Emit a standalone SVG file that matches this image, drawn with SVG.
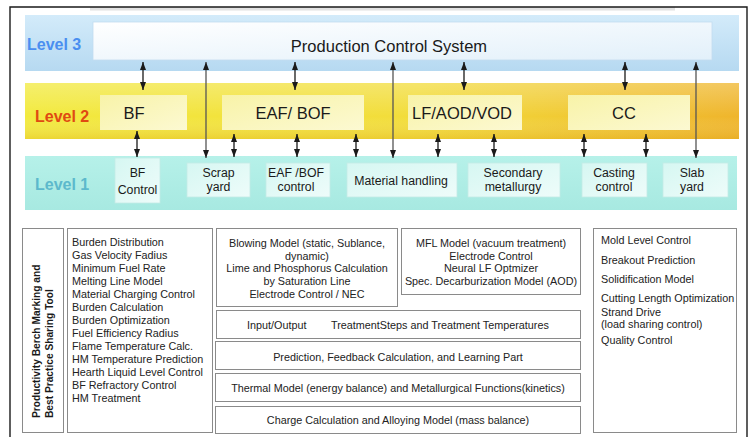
<svg xmlns="http://www.w3.org/2000/svg" width="749" height="437" viewBox="0 0 749 437">
  <defs>
    <linearGradient id="gL3" x1="0" y1="0" x2="0" y2="1">
      <stop offset="0" stop-color="#d3ebfa"/>
      <stop offset="1" stop-color="#b6d9f1"/>
    </linearGradient>
    <linearGradient id="gPCS" x1="0" y1="0" x2="1" y2="1">
      <stop offset="0" stop-color="#ffffff"/>
      <stop offset="1" stop-color="#e2f0fa"/>
    </linearGradient>
    <linearGradient id="gL2" x1="0" y1="0" x2="1" y2="0">
      <stop offset="0" stop-color="#f2ea3e"/>
      <stop offset="0.55" stop-color="#f2dc3a"/>
      <stop offset="1" stop-color="#efb52c"/>
    </linearGradient>
    <linearGradient id="gL2shade" x1="0" y1="0" x2="0" y2="1">
      <stop offset="0" stop-color="#ffffff" stop-opacity="0.25"/>
      <stop offset="0.6" stop-color="#ffffff" stop-opacity="0"/>
      <stop offset="1" stop-color="#d89a10" stop-opacity="0.25"/>
    </linearGradient>
    <linearGradient id="gL2box" x1="0" y1="0" x2="1" y2="1">
      <stop offset="0" stop-color="#f8f3a8"/>
      <stop offset="1" stop-color="#fcf9d2"/>
    </linearGradient>
    <linearGradient id="gL1" x1="0" y1="0" x2="0" y2="1">
      <stop offset="0" stop-color="#b6f1e9"/>
      <stop offset="1" stop-color="#a7e9e1"/>
    </linearGradient>
    <linearGradient id="gL1box" x1="0" y1="0" x2="1" y2="1">
      <stop offset="0" stop-color="#d6f7f2"/>
      <stop offset="1" stop-color="#eefcfa"/>
    </linearGradient>
    <marker id="head" viewBox="0 0 8 6" refX="8" refY="3" markerWidth="8" markerHeight="6" markerUnits="userSpaceOnUse" orient="auto-start-reverse">
      <path d="M0,0 L8,3 L0,6 z" fill="#1a1a1a"/>
    </marker>
  </defs>
  <style>
    .lvl { font-family: "Liberation Sans", Arial, sans-serif; font-weight: bold; font-size: 16px; }
    .l2t { font-family: "Liberation Sans", Arial, sans-serif; font-size: 16.5px; fill: #1a1a1a; text-anchor: middle; }
    .l1t { font-family: "Liberation Sans", Arial, sans-serif; font-size: 12.3px; fill: #1a1a1a; text-anchor: middle; }
    .l2box { fill: url(#gL2box); }
    .l1box { fill: url(#gL1box); stroke: #c4ebe5; stroke-width: 0.8; }
    .box { fill: #ffffff; stroke: #8a8a8a; stroke-width: 1; }
    .txt { font-family: "Liberation Sans", Arial, sans-serif; font-size: 10.8px; fill: #222222; }
    .ctr { text-anchor: middle; }
    .arr { stroke: #1a1a1a; stroke-width: 1.3; fill: none; marker-start: url(#head); marker-end: url(#head); }
    .arr.long { stroke: #555555; }
  </style>

  <!-- page frame -->
  <rect x="0" y="0" width="749" height="437" fill="#ffffff"/>
  <rect x="90" y="7" width="585" height="3.5" fill="#e2e2e2"/>
  <path d="M10,437 V7 H747 V437" fill="none" stroke="#1a1a1a" stroke-width="1.4"/>

  <!-- level bands -->
  <g id="level3">
    <rect x="25" y="15" width="714" height="56" fill="url(#gL3)"/>
    <text class="lvl" x="27" y="50" fill="#4a8ef0">Level 3</text>
  </g>
  <g id="level2">
    <rect x="25" y="83" width="714" height="56" fill="url(#gL2)"/>
    <rect x="25" y="83" width="714" height="56" fill="url(#gL2shade)"/>
    <text class="lvl" x="35" y="122" fill="#e04a12">Level 2</text>
  </g>
  <g id="level1">
    <rect x="25" y="156" width="712" height="54" fill="url(#gL1)"/>
    <text class="lvl" x="35" y="190" fill="#5cb9cc">Level 1</text>
  </g>

  <!-- level 3 -->
  <g id="pcs">
    <rect x="93" y="22" width="619" height="38" fill="url(#gPCS)" stroke="#c2ddef" stroke-width="0.8"/>
    <text x="389" y="52" font-family="Liberation Sans, Arial, sans-serif" font-size="16.5" fill="#1a1a1a" text-anchor="middle">Production Control System</text>
  </g>

  <!-- level 2 -->
  <g id="bf">
    <rect class="l2box" x="100" y="95" width="87" height="35"/>
    <text class="l2t" x="134" y="119">BF</text>
  </g>
  <g id="eaf-bof">
    <rect class="l2box" x="222" y="95" width="142" height="35"/>
    <text class="l2t" x="293" y="119">EAF/ BOF</text>
  </g>
  <g id="lf-aod-vod">
    <rect class="l2box" x="408" y="95" width="114" height="35"/>
    <text class="l2t" x="462" y="119">LF/AOD/VOD</text>
  </g>
  <g id="cc">
    <rect class="l2box" x="568" y="95" width="122" height="35"/>
    <text class="l2t" x="624" y="119">CC</text>
  </g>

  <!-- level 1 -->
  <g id="bf-control">
    <rect class="l1box" x="115" y="158" width="45" height="45"/>
    <text class="l1t" x="137.5" y="177">BF</text>
    <text class="l1t" x="137.5" y="193.5">Control</text>
  </g>
  <g id="scrap-yard">
    <rect class="l1box" x="187" y="163" width="63" height="34"/>
    <text class="l1t" x="218.5" y="177">Scrap</text>
    <text class="l1t" x="218.5" y="191">yard</text>
  </g>
  <g id="eaf-bof-control">
    <rect class="l1box" x="266" y="163" width="64" height="34"/>
    <text class="l1t" x="296" y="177">EAF /BOF</text>
    <text class="l1t" x="296" y="191">control</text>
  </g>
  <g id="material-handling">
    <rect class="l1box" x="347" y="163" width="110" height="34"/>
    <text class="l1t" x="401" y="184.5" font-size="12.8">Material handling</text>
  </g>
  <g id="secondary-metallurgy">
    <rect class="l1box" x="468" y="163" width="92" height="34"/>
    <text class="l1t" x="513" y="177">Secondary</text>
    <text class="l1t" x="513" y="191">metallurgy</text>
  </g>
  <g id="casting-control">
    <rect class="l1box" x="582" y="163" width="65" height="34"/>
    <text class="l1t" x="614" y="177">Casting</text>
    <text class="l1t" x="614" y="191">control</text>
  </g>
  <g id="slab-yard">
    <rect class="l1box" x="663" y="163" width="65" height="34"/>
    <text class="l1t" x="692" y="177">Slab</text>
    <text class="l1t" x="692" y="191">yard</text>
  </g>

  <!-- connectors -->
  <g id="connectors">
    <line class="arr" x1="143" y1="62" x2="143" y2="90"/>
    <line class="arr" x1="295" y1="62" x2="295" y2="90"/>
    <line class="arr" x1="464" y1="62" x2="464" y2="90"/>
    <line class="arr" x1="625" y1="62" x2="625" y2="90"/>
    <line class="arr long" x1="206" y1="62" x2="206" y2="158"/>
    <line class="arr long" x1="393" y1="62" x2="393" y2="158"/>
    <line class="arr long" x1="696" y1="62" x2="696" y2="158"/>
    <line class="arr" x1="137" y1="131" x2="137" y2="157"/>
    <line class="arr" x1="234" y1="134" x2="234" y2="157"/>
    <line class="arr" x1="297" y1="134" x2="297" y2="157"/>
    <line class="arr" x1="356" y1="134" x2="356" y2="157"/>
    <line class="arr" x1="438" y1="134" x2="438" y2="157"/>
    <line class="arr" x1="494" y1="134" x2="494" y2="157"/>
    <line class="arr" x1="584" y1="134" x2="584" y2="157"/>
    <line class="arr" x1="646" y1="134" x2="646" y2="157"/>
  </g>

  <!-- function blocks -->
  <g id="benchmarking">
    <rect class="box" x="22.5" y="228.5" width="41" height="204"/>
    <g font-family="Liberation Sans, Arial, sans-serif" font-weight="bold" font-size="10.2" fill="#1a1a1a">
      <text transform="translate(40,418) rotate(-90)">Productivity Berch Marking and</text>
      <text transform="translate(53,418) rotate(-90)">Best Practice Sharing Tool</text>
    </g>
  </g>

  <g id="bf-functions">
    <rect class="box" x="67.5" y="228.5" width="145" height="204"/>
    <text class="txt" x="72" y="246">Burden Distribution</text>
    <text class="txt" x="72" y="259">Gas Velocity Fadius</text>
    <text class="txt" x="72" y="272">Minimum Fuel Rate</text>
    <text class="txt" x="72" y="285">Melting Line Model</text>
    <text class="txt" x="72" y="298">Material Charging Control</text>
    <text class="txt" x="72" y="311">Burden Calculation</text>
    <text class="txt" x="72" y="324">Burden Optimization</text>
    <text class="txt" x="72" y="337">Fuel Efficiency Radius</text>
    <text class="txt" x="72" y="350">Flame Temperature Calc.</text>
    <text class="txt" x="72" y="363">HM Temperature Prediction</text>
    <text class="txt" x="72" y="376">Hearth Liquid Level Control</text>
    <text class="txt" x="72" y="389">BF Refractory Control</text>
    <text class="txt" x="72" y="402">HM Treatment</text>
  </g>

  <g id="eaf-bof-functions">
    <rect class="box" x="216.5" y="228.5" width="181" height="78"/>
    <text class="txt ctr" x="307" y="247">Blowing Model (static, Sublance,</text>
    <text class="txt ctr" x="307" y="260">dynamic)</text>
    <text class="txt ctr" x="307" y="272">Lime and Phosphorus Calculation</text>
    <text class="txt ctr" x="307" y="285">by Saturation Line</text>
    <text class="txt ctr" x="307" y="298">Electrode Control / NEC</text>
  </g>

  <g id="lf-functions">
    <rect class="box" x="401.5" y="228.5" width="179" height="66"/>
    <text class="txt ctr" x="491" y="247">MFL Model (vacuum treatment)</text>
    <text class="txt ctr" x="491" y="260">Electrode Control</text>
    <text class="txt ctr" x="491" y="272">Neural LF Optmizer</text>
    <text class="txt ctr" x="491" y="285">Spec. Decarburization Model (AOD)</text>
  </g>

  <g id="input-output">
    <rect class="box" x="216.5" y="310.5" width="364" height="28"/>
    <text class="txt" x="247" y="329">Input/Output</text>
    <text class="txt" x="331" y="329">TreatmentSteps and Treatment Temperatures</text>
  </g>

  <g id="prediction">
    <rect class="box" x="215.5" y="341.5" width="365" height="28"/>
    <text class="txt ctr" x="398" y="361">Prediction, Feedback Calculation, and Learning Part</text>
  </g>

  <g id="thermal-model">
    <rect class="box" x="215.5" y="373.5" width="365" height="28"/>
    <text class="txt ctr" x="398" y="392">Thermal Model (energy balance) and  Metallurgical Functions(kinetics)</text>
  </g>

  <g id="charge-calculation">
    <rect class="box" x="215.5" y="406.5" width="365" height="27"/>
    <text class="txt ctr" x="398" y="424">Charge Calculation and Alloying Model (mass balance)</text>
  </g>

  <g id="cc-functions">
    <rect class="box" x="593.5" y="228.5" width="143" height="204"/>
    <text class="txt" x="601" y="244">Mold Level Control</text>
    <text class="txt" x="601" y="264">Breakout Prediction</text>
    <text class="txt" x="601" y="283">Solidification Model</text>
    <text class="txt" x="601" y="302">Cutting Length Optimization</text>
    <text class="txt" x="601" y="316" font-size="10.2">Strand Drive</text>
    <text class="txt" x="601" y="328" font-size="10">(load sharing control)</text>
    <text class="txt" x="601" y="344">Quality Control</text>
  </g>
</svg>
